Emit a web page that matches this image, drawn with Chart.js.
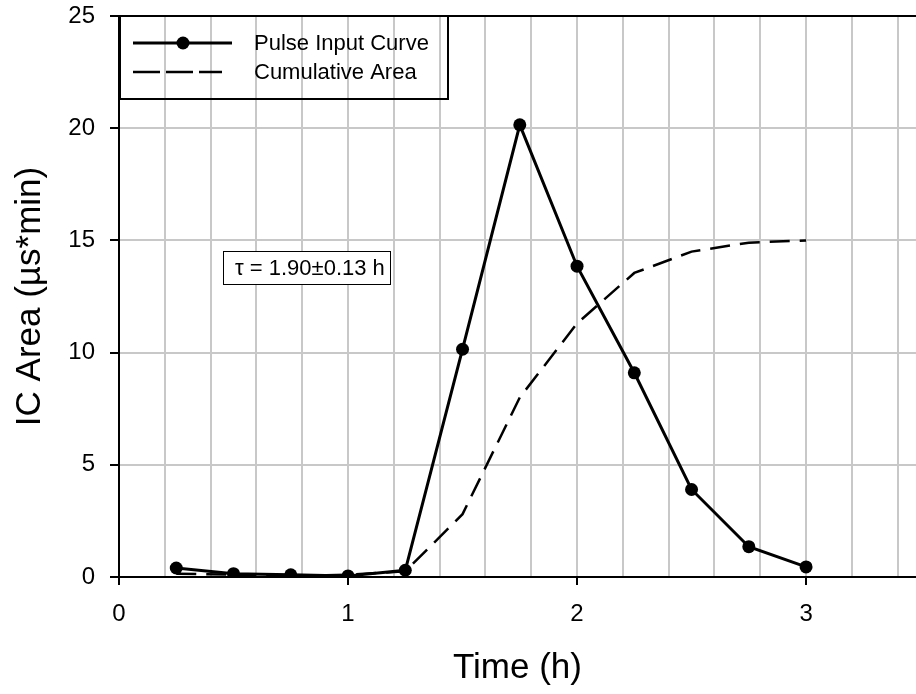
<!DOCTYPE html>
<html>
<head>
<meta charset="utf-8">
<title>Pulse Input Curve</title>
<script src="https://cdn.jsdelivr.net/npm/chart.js@4.4.1/dist/chart.umd.min.js"></script>
<style>
  html, body { margin: 0; padding: 0; background: #fff; overflow: hidden; }
  canvas { display: block; }
</style>
</head>
<body>
<canvas id="chart" width="916" height="694"></canvas>
<script>
// Sampling times (h)
const times = [0.25, 0.5, 0.75, 1, 1.25, 1.5, 1.75, 2, 2.25, 2.5, 2.75, 3];
// IC area of the pulse input curve (µs*min)
const pulseInput = [0.4, 0.15, 0.1, 0.05, 0.3, 10.15, 20.15, 13.85, 9.1, 3.9, 1.35, 0.45];
// Cumulative area curve
const cumulativeArea = [0.15, 0.1, 0.05, 0.1, 0.25, 2.8, 8.0, 11.3, 13.55, 14.5, 14.9, 15.0];
// Axis tick labels
const xTickLabels = [0, 1, 2, 3];
const yTickLabels = [0, 5, 10, 15, 20, 25];

const seriesNames = ['Pulse Input Curve', 'Cumulative Area'];
const tauText = 'τ = 1.90±0.13 h';

const FONT = "'Liberation Sans', Arial, sans-serif";
Chart.defaults.font.family = FONT;
Chart.defaults.color = '#000';

const GRID = '#c8c8c8';
const isInt = v => Math.abs(v - Math.round(v)) < 1e-6;

// Legend box and the tau label drawn over the plot
const overlayPlugin = {
    id: 'overlay',
    afterDraw(chart) {
        const ctx = chart.ctx;
        ctx.save();

        // legend frame (transparent, grid shows through)
        ctx.strokeStyle = '#000';
        ctx.lineWidth = 2;
        ctx.strokeRect(120, 16, 328, 83);

        // solid sample with marker
        ctx.lineWidth = 3;
        ctx.beginPath();
        ctx.moveTo(133, 43);
        ctx.lineTo(232, 43);
        ctx.stroke();
        ctx.fillStyle = '#000';
        ctx.beginPath();
        ctx.arc(183, 43, 6.5, 0, Math.PI * 2);
        ctx.fill();

        // dashed sample
        ctx.lineWidth = 2.5;
        ctx.setLineDash([27, 6]);
        ctx.beginPath();
        ctx.moveTo(133, 72);
        ctx.lineTo(222, 72);
        ctx.stroke();
        ctx.setLineDash([]);

        ctx.font = '22px ' + FONT;
        ctx.textBaseline = 'middle';
        ctx.textAlign = 'left';
        ctx.fillText(seriesNames[0], 254, 44);
        ctx.fillText(seriesNames[1], 254, 73);

        // tau label box
        ctx.fillStyle = '#fff';
        ctx.fillRect(223, 251, 168, 34);
        ctx.lineWidth = 1;
        ctx.strokeStyle = '#000';
        ctx.strokeRect(223.5, 251.5, 167, 33);
        ctx.fillStyle = '#000';
        ctx.fillText(tauText, 235, 269);

        ctx.restore();
    }
};

const ctx = document.getElementById('chart').getContext('2d');
new Chart(ctx, {
    type: 'line',
    data: {
        datasets: [
            {
                label: seriesNames[0],
                data: times.map((t, i) => ({ x: t, y: pulseInput[i] })),
                borderColor: '#000',
                backgroundColor: '#000',
                borderWidth: 3,
                pointRadius: 6.5,
                pointBackgroundColor: '#000',
                pointBorderWidth: 0,
                tension: 0
            },
            {
                label: seriesNames[1],
                data: times.map((t, i) => ({ x: t, y: cumulativeArea[i] })),
                borderColor: '#000',
                borderWidth: 2.5,
                borderDash: [20, 10],
                pointRadius: 0,
                tension: 0
            }
        ]
    },
    options: {
        responsive: false,
        animation: false,
        layout: { autoPadding: false, padding: { top: 16, right: 0, left: 0, bottom: 0 } },
        plugins: {
            legend: { display: false },
            tooltip: { enabled: false }
        },
        scales: {
            x: {
                type: 'linear',
                position: 'bottom',
                min: 0,
                max: 3.48,
                border: { color: '#000', width: 2 },
                grid: {
                    color: c => c.tick && c.tick.value === 0 ? 'rgba(0,0,0,0)' : GRID,
                    lineWidth: 2,
                    tickLength: 8,
                    tickWidth: 2,
                    tickColor: c => c.tick && isInt(c.tick.value) && xTickLabels.includes(Math.round(c.tick.value)) ? '#000' : 'rgba(0,0,0,0)'
                },
                ticks: {
                    stepSize: 0.2,
                    includeBounds: false,
                    autoSkip: false,
                    maxRotation: 0,
                    padding: 15,
                    font: { size: 24 },
                    color: '#000',
                    callback: v => isInt(v) && xTickLabels.includes(Math.round(v)) ? String(Math.round(v)) : ''
                },
                title: {
                    display: true,
                    text: 'Time (h)',
                    font: { size: 35 },
                    color: '#000',
                    padding: { top: 0, bottom: 5 }
                },
                afterFit: s => { s.height = 117; s.paddingRight = 0; }
            },
            y: {
                min: 0,
                max: 25,
                border: { color: '#000', width: 2 },
                grid: {
                    color: c => {
                        const v = c.tick ? c.tick.value : null;
                        if (v === 25) return '#000';
                        if (v === 0) return 'rgba(0,0,0,0)';
                        return GRID;
                    },
                    lineWidth: 2,
                    tickLength: 9,
                    tickWidth: 2,
                    tickColor: '#000'
                },
                ticks: {
                    stepSize: 5,
                    padding: 15,
                    font: { size: 24 },
                    color: '#000',
                    callback: v => yTickLabels.includes(v) ? String(v) : ''
                },
                title: {
                    display: true,
                    text: 'IC Area (µs*min)',
                    font: { size: 35 },
                    color: '#000',
                    padding: { top: 9, bottom: 0 }
                },
                afterFit: s => { s.width = 119; s.paddingTop = 0; s.paddingBottom = 0; }
            }
        }
    },
    plugins: [overlayPlugin]
});
</script>
</body>
</html>
